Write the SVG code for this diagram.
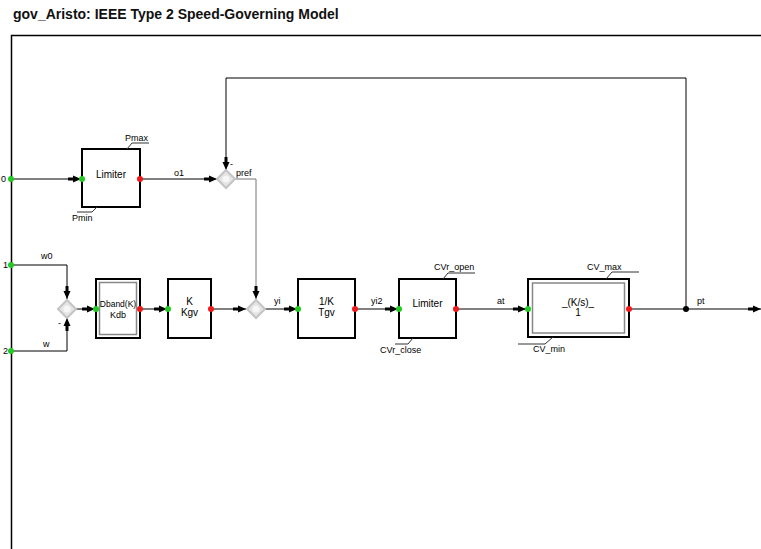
<svg xmlns="http://www.w3.org/2000/svg" width="761" height="549" viewBox="0 0 761 549">
<style>
text{font-family:"Liberation Sans",Arial,sans-serif;fill:#000}
.title{font-size:14px;font-weight:bold;fill:#111}
.lbl{font-size:9px}
.blk{font-size:10px;text-anchor:middle}
.box{fill:#fff;stroke:#000;stroke-width:2}
.inner{fill:none;stroke:#888;stroke-width:1.5}
.wire{fill:none;stroke:#000;stroke-width:1}
.gwire{fill:none;stroke:#777;stroke-width:1}
.tag{fill:none;stroke:#333;stroke-width:1}
.in{fill:#22c922}
.out{fill:#f01818}
.sum{fill:#e4e4e4;stroke:#c4c4c4;stroke-width:2}
</style>
<defs>
<marker id="arr" markerUnits="userSpaceOnUse" markerWidth="13" markerHeight="8" viewBox="-13 -4 13 8" refX="0" refY="0" orient="auto">
<path d="M-13,-1.5 L-8,-1.5 L-8,-3.5 L0,0 L-8,3.5 L-8,1.5 L-13,1.5Z" fill="#000"/>
</marker>
</defs>
<rect width="761" height="549" fill="#fff"/>
<text class="title" x="13" y="19">gov_Aristo: IEEE Type 2 Speed-Governing Model</text>
<path d="M11.5,549 V35.5 H761" fill="none" stroke="#000" stroke-width="1.5"/>

<g id="connectors">
<path class="wire" d="M11,179 H81" marker-end="url(#arr)"/>
<path class="wire" d="M140,179 H217" marker-end="url(#arr)"/>
<path class="wire" d="M686,309 V78 H226 V170" marker-end="url(#arr)"/>
<path class="gwire" d="M235,179 H256 V299" marker-end="url(#arr)"/>
<path class="wire" d="M11,265 H67 V299" marker-end="url(#arr)"/>
<path class="wire" d="M11,351 H67 V318" marker-end="url(#arr)"/>
<path class="wire" d="M76,309 H95" marker-end="url(#arr)"/>
<path class="wire" d="M140,309 H167" marker-end="url(#arr)"/>
<path class="wire" d="M211,309 H246" marker-end="url(#arr)"/>
<path class="wire" d="M265,309 H297" marker-end="url(#arr)"/>
<path class="wire" d="M355,309 H398" marker-end="url(#arr)"/>
<path class="wire" d="M456,309 H526" marker-end="url(#arr)"/>
<path class="wire" d="M629,309 H761" marker-end="url(#arr)"/>
<text class="lbl" x="174" y="176">o1</text>
<text class="lbl" x="236" y="176">pref</text>
<text class="lbl" x="41" y="259">w0</text>
<text class="lbl" x="43" y="347">w</text>
<text class="lbl" x="274" y="304">yi</text>
<text class="lbl" x="371" y="304">yi2</text>
<text class="lbl" x="497" y="304">at</text>
<text class="lbl" x="697" y="304">pt</text>
<circle cx="686" cy="309" r="3" fill="#000"/>
</g>

<g id="port0"><circle class="in" cx="11" cy="179" r="3"/><text class="lbl" x="1" y="182">0</text></g>
<g id="port1"><circle class="in" cx="11" cy="265" r="3"/><text class="lbl" x="3" y="268">1</text></g>
<g id="port2"><circle class="in" cx="11" cy="351" r="3"/><text class="lbl" x="3" y="354">2</text></g>

<g id="limiter1">
<rect class="box" x="82" y="149" width="58" height="58"/>
<text class="blk" x="111" y="178">Limiter</text>
<path class="tag" d="M127,149 L132,143 H149"/>
<text class="lbl" x="125" y="141">Pmax</text>
<path class="tag" d="M97,207 L92,212 H77"/>
<text class="lbl" x="72" y="221">Pmin</text>
<circle class="in" cx="82" cy="179" r="3"/>
<circle class="out" cx="140" cy="179" r="3"/>
</g>

<g id="sum_pref">
<polygon class="sum" points="226,170 235,179 226,188 217,179"/>
<circle cx="226" cy="179" r="3.5" fill="#f6f6f6"/>
<text class="lbl" x="230" y="167">-</text>
</g>

<g id="sum_in">
<polygon class="sum" points="67,300 76,309 67,318 58,309"/>
<circle cx="67" cy="309" r="3.5" fill="#f6f6f6"/>
<text class="lbl" x="58" y="326">-</text>
</g>

<g id="dband">
<rect class="box" x="96" y="279" width="44" height="59"/>
<rect class="inner" x="99.5" y="282.5" width="37" height="52"/>
<text class="blk" x="118" y="307" style="font-size:8.5px">Dband(K)</text>
<text class="blk" x="118" y="318" style="font-size:9px">Kdb</text>
<circle class="in" cx="96" cy="309" r="3"/>
<circle class="out" cx="140" cy="309" r="3"/>
</g>

<g id="kgv">
<rect class="box" x="168" y="279" width="43" height="59"/>
<text class="blk" x="189.5" y="305">K</text>
<text class="blk" x="189.5" y="316">Kgv</text>
<circle class="in" cx="168" cy="309" r="3"/>
<circle class="out" cx="211" cy="309" r="3"/>
</g>

<g id="sum_yi">
<polygon class="sum" points="256,300 265,309 256,318 247,309"/>
<circle cx="256" cy="309" r="3.5" fill="#f6f6f6"/>
</g>

<g id="tgv">
<rect class="box" x="298" y="279" width="57" height="59"/>
<text class="blk" x="326.5" y="305">1/K</text>
<text class="blk" x="326.5" y="316">Tgv</text>
<circle class="in" cx="298" cy="309" r="3"/>
<circle class="out" cx="355" cy="309" r="3"/>
</g>

<g id="limiter2">
<rect class="box" x="399" y="279" width="57" height="59"/>
<text class="blk" x="427.5" y="307">Limiter</text>
<path class="tag" d="M443,279 L448,273 H475"/>
<text class="lbl" x="434" y="270">CVr_open</text>
<path class="tag" d="M413,338 L408,344 H395"/>
<text class="lbl" x="380" y="353">CVr_close</text>
<circle class="in" cx="399" cy="309" r="3"/>
<circle class="out" cx="456" cy="309" r="3"/>
</g>

<g id="cv">
<rect class="box" x="528" y="279" width="101" height="58"/>
<rect class="inner" x="532.5" y="283" width="92" height="50"/>
<text class="blk" x="578" y="306">_(K/s)_</text>
<text class="blk" x="578" y="316">1</text>
<path class="tag" d="M606,279 L612,272 H639"/>
<text class="lbl" x="587" y="270">CV_max</text>
<path class="tag" d="M553,337 L545,344 H518"/>
<text class="lbl" x="533" y="352">CV_min</text>
<circle class="in" cx="528" cy="309" r="3"/>
<circle class="out" cx="629" cy="309" r="3"/>
</g>
</svg>
